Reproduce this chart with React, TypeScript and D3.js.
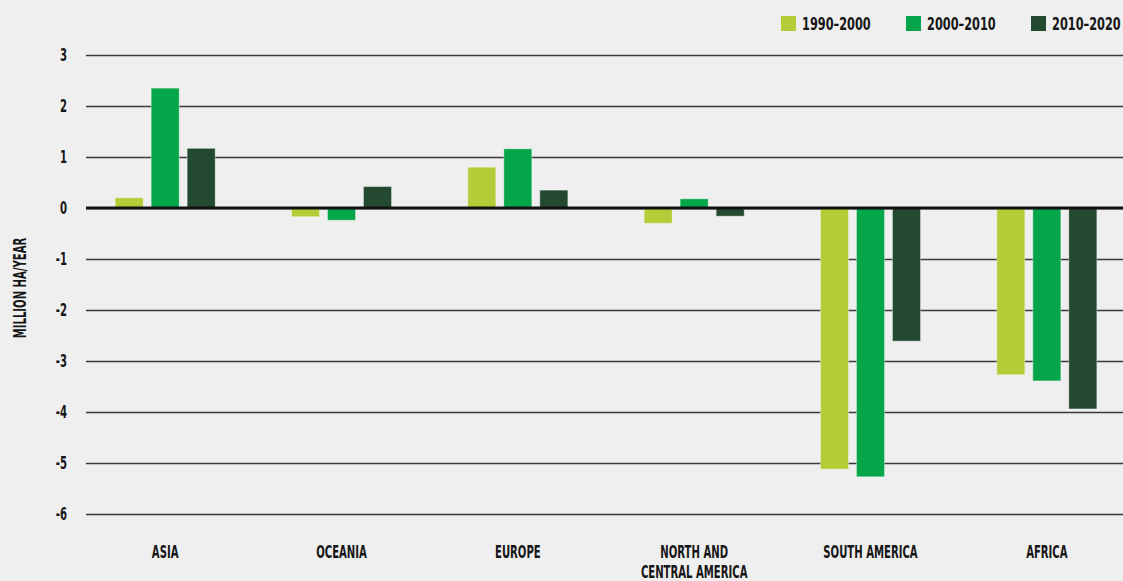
import { select, scaleBand, scaleLinear, axisLeft } from "d3";
import { useEffect, useRef } from "react";

const regions = ["ASIA", "OCEANIA", "EUROPE", "NORTH AND\nCENTRAL AMERICA", "SOUTH AMERICA", "AFRICA"];
const periods = ["1990–2000", "2000–2010", "2010–2020"];
const colors = ["#b2cd37", "#05a54a", "#234a30"];

const values1990 = [0.2, -0.17, 0.8, -0.3, -5.12, -3.27];
const values2000 = [2.35, -0.24, 1.16, 0.18, -5.27, -3.39];
const values2010 = [1.17, 0.42, 0.35, -0.16, -2.61, -3.94];

const yTicks = [3, 2, 1, 0, -1, -2, -3, -4, -5, -6];

const FONT = "'DejaVu Sans Condensed', 'DejaVu Sans', sans-serif";

export default function App() {
  const svgRef = useRef<SVGSVGElement | null>(null);
  const width = 1123;
  const height = 581;

  useEffect(() => {
    if (!svgRef.current) return;
    const svg = select(svgRef.current);
    svg.selectAll("*").remove();

    const left = 86;

    const x = scaleBand<string>().domain(regions).range([77, 1135]);
    const y = scaleLinear().domain([-6, 3]).range([514, 55]);
    const series = [values1990, values2000, values2010];

    // condensed bold text, squeezed sideways
    const label = (
      tx: number,
      ty: number,
      text: string,
      size: number,
      anchor: string,
      rotate = 0,
      squeeze = 0.66
    ) =>
      svg
        .append("text")
        .attr("transform", `translate(${tx},${ty}) rotate(${rotate}) scale(${squeeze},1)`)
        .attr("text-anchor", anchor)
        .attr("font-family", FONT)
        .attr("font-weight", "bold")
        .attr("font-size", size)
        .attr("fill", "#161616")
        .text(text);

    svg.append("rect").attr("width", width).attr("height", height).attr("fill", "#efefef");

    // grid lines
    const grid = svg
      .append("g")
      .attr("transform", `translate(${left},0)`)
      .call(axisLeft(y).tickValues(yTicks).tickSizeInner(-(width - left)).tickFormat(() => ""));
    grid.select(".domain").remove();
    grid
      .selectAll(".tick line")
      .attr("stroke", "#3a3a3a")
      .attr("stroke-width", 1.4);

    // tick labels
    yTicks.forEach((d) => label(67, y(d) + 6, String(d), 17, "end"));

    // bars
    const barW = 28;
    const offsets = [-36, 0, 36];
    series.forEach((vals, si) => {
      svg
        .append("g")
        .selectAll("rect")
        .data(vals)
        .enter()
        .append("rect")
        .attr("x", (d, i) => x(regions[i])! + x.bandwidth() / 2 + offsets[si] - barW / 2)
        .attr("y", (d) => y(Math.max(0, d)))
        .attr("width", barW)
        .attr("height", (d) => Math.abs(y(d) - y(0)))
        .attr("fill", colors[si])
        .attr("stroke", "#ffffff")
        .attr("stroke-opacity", 0.35)
        .attr("stroke-width", 1);
    });

    // zero line
    svg
      .append("line")
      .attr("x1", left)
      .attr("x2", width)
      .attr("y1", y(0))
      .attr("y2", y(0))
      .attr("stroke", "#111")
      .attr("stroke-width", 3);

    // category labels
    regions.forEach((r) => {
      const cx = x(r)! + x.bandwidth() / 2;
      r.split("\n").forEach((line, li) => label(cx, 558 + li * 20, line, 17, "middle"));
    });

    // y axis title
    label(26, 288, "MILLION HA/YEAR", 17, "middle", -90);

    // legend
    const legendX = [781, 906, 1031];
    periods.forEach((p, i) => {
      svg
        .append("rect")
        .attr("x", legendX[i])
        .attr("y", 16)
        .attr("width", 15)
        .attr("height", 15)
        .attr("fill", colors[i]);
      label(legendX[i] + 21, 30, p, 18, "start", 0, 0.7);
    });
  }, []);

  return (
    <svg
      ref={svgRef}
      width={width}
      height={height}
      style={{ position: "absolute", top: 0, left: 0, display: "block" }}
    ></svg>
  );
}
